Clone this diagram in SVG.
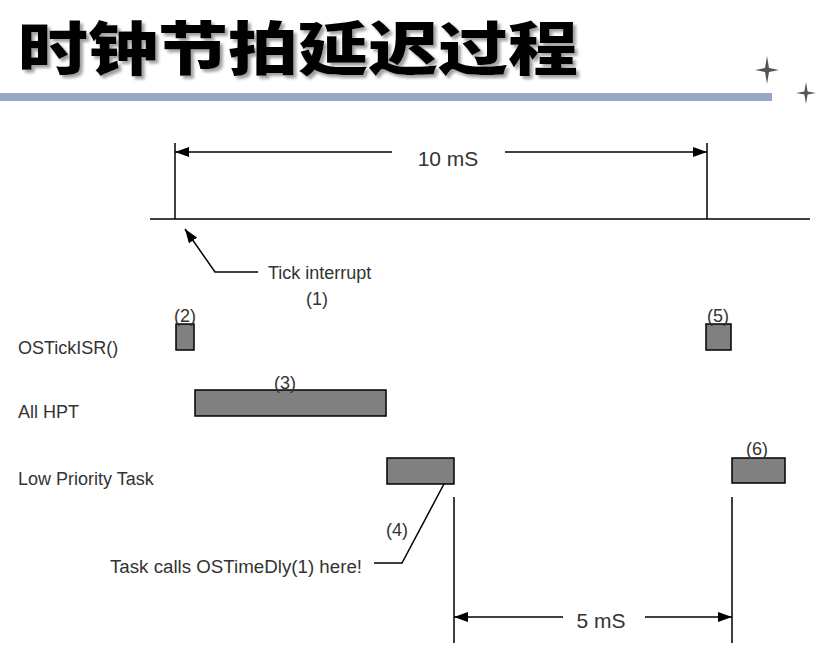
<svg xmlns="http://www.w3.org/2000/svg" width="825" height="659" viewBox="0 0 825 659">
<style>
.lbl{font-family:"Liberation Sans",Arial,sans-serif;font-size:18px;fill:#333}
.big{font-family:"Liberation Sans",Arial,sans-serif;font-size:21px;fill:#333}
.ln{stroke:#000;stroke-width:1.5;fill:none}
.bar{fill:#808080;stroke:#000;stroke-width:1.5}
.title{font-family:"Noto Sans CJK SC","Noto Sans CJK JP",sans-serif;font-weight:900;font-size:58px}
.star{fill:#555}
</style>
<defs>
<marker id="ah" viewBox="0 0 14 10" refX="14" refY="5" markerWidth="14" markerHeight="10" markerUnits="userSpaceOnUse" orient="auto-start-reverse">
<path d="M0,0 L14,5 L0,10 z" fill="#000"/>
</marker>
<filter id="sh" x="-5%" y="-20%" width="110%" height="150%">
<feDropShadow dx="3" dy="3" stdDeviation="1.5" flood-color="#888" flood-opacity="0.8"/>
</filter>
</defs>
<rect width="825" height="659" fill="#fff"/>
<g id="title">
<text class="title" x="18" y="70" fill="#000" filter="url(#sh)" textLength="560" lengthAdjust="spacingAndGlyphs">时钟节拍延迟过程</text>
<rect x="0" y="93" width="772" height="8" fill="#97A5C8"/>
<path class="star" d="M767,56 L769,68 L779,70 L769,72 L767,84 L765,72 L755,70 L765,68 z"/>
<path class="star" d="M806,82 L807.6,91.5 L816,93 L807.6,94.5 L806,104 L804.4,94.5 L796,93 L804.4,91.5 z"/>
</g>
<g id="connectors">
<line class="ln" x1="150" y1="219" x2="810" y2="219"/>
<line class="ln" x1="175" y1="143" x2="175" y2="219"/>
<line class="ln" x1="707" y1="143" x2="707" y2="219"/>
<line class="ln" x1="392" y1="152" x2="175" y2="152" marker-end="url(#ah)"/>
<line class="ln" x1="505" y1="152" x2="707" y2="152" marker-end="url(#ah)"/>
<polyline class="ln" points="258,272 215,272 185,229" marker-end="url(#ah)"/>
<polyline class="ln" points="374,563 402,563 453,467" marker-end="url(#ah)"/>
<line class="ln" x1="454" y1="497" x2="454" y2="643"/>
<line class="ln" x1="732" y1="497" x2="732" y2="643"/>
<line class="ln" x1="563" y1="617" x2="454" y2="617" marker-end="url(#ah)"/>
<line class="ln" x1="645" y1="617" x2="732" y2="617" marker-end="url(#ah)"/>
</g>
<g id="dim10"><text class="big" x="448" y="166" text-anchor="middle">10 mS</text></g>
<g id="dim5"><text class="big" x="601" y="628" text-anchor="middle">5 mS</text></g>
<g id="tick"><text class="lbl" x="268" y="279">Tick interrupt</text><text class="lbl" x="317" y="305" text-anchor="middle">(1)</text></g>
<g id="row-isr"><text class="lbl" x="18" y="354">OSTickISR()</text></g>
<g id="row-hpt"><text class="lbl" x="18" y="418">All HPT</text></g>
<g id="row-low"><text class="lbl" x="18" y="485">Low Priority Task</text></g>
<g id="b2"><rect class="bar" x="176" y="324" width="18" height="26"/><text class="lbl" x="185" y="322" text-anchor="middle">(2)</text></g>
<g id="b3"><rect class="bar" x="195" y="390" width="191" height="26"/><text class="lbl" x="285" y="389" text-anchor="middle">(3)</text></g>
<g id="b4"><rect class="bar" x="387" y="458" width="67" height="26"/><text class="lbl" x="397" y="536" text-anchor="middle">(4)</text></g>
<g id="note4"><text class="lbl" x="110" y="573" textLength="252" lengthAdjust="spacingAndGlyphs">Task calls OSTimeDly(1) here!</text></g>
<g id="b5"><rect class="bar" x="706" y="324" width="25" height="26"/><text class="lbl" x="718" y="322" text-anchor="middle">(5)</text></g>
<g id="b6"><rect class="bar" x="732" y="458" width="53" height="25"/><text class="lbl" x="757" y="455" text-anchor="middle">(6)</text></g>
</svg>
